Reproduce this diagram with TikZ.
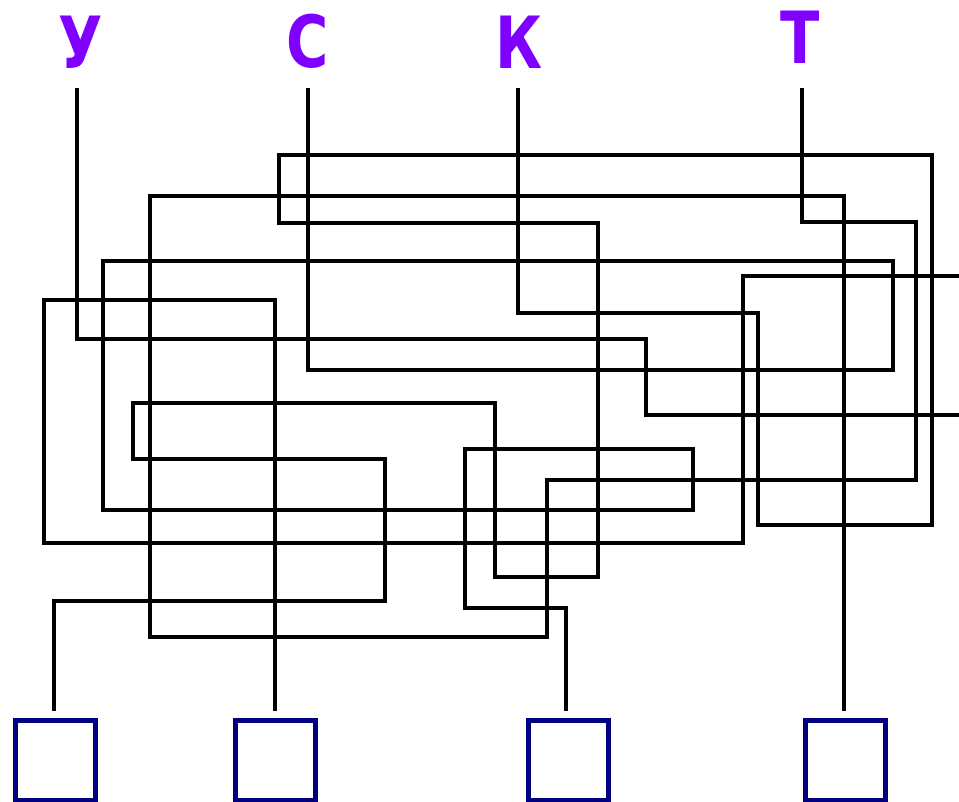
\documentclass[tikz,border=0pt]{standalone}
\usepackage{fontspec}
\newfontfamily\letterfont[FakeStretch=0.8]{DejaVu Sans Bold}
\definecolor{lettercol}{HTML}{8000FF}
\definecolor{boxcol}{HTML}{000080}
\tikzset{
  wire/.style={line width=4.6pt, draw=black, line join=miter},
  goal/.style={draw=boxcol, line width=5pt, rectangle, minimum width=80pt, minimum height=80pt, inner sep=0pt, fill=white},
  letter/.style={text=lettercol, font=\letterfont\fontsize{72}{72}\selectfont, anchor=base, inner sep=0pt}
}
\begin{document}
\begin{tikzpicture}[x=1pt,y=-1pt]
\useasboundingbox[fill=white] (0,0) rectangle (959,801);
% letters
\node[letter] (lU) at (81,68) {У};
\node[letter] (lS) at (308,67) {С};
\node[letter] (lK) at (519,68) {К};
\node[letter] (lT) at (800,63) {Т};
% wire ends
\coordinate (sU) at (77,88);
\coordinate (sS) at (308,88);
\coordinate (sK) at (518,88);
\coordinate (sT) at (802,88);
\coordinate (e1) at (54,711);
\coordinate (e2) at (275,711);
\coordinate (e3) at (566,711);
\coordinate (e4) at (844,711);
\coordinate (outA) at (959,415);
\coordinate (inA) at (959,276);
% boxes
\node[goal] (b1) at (55.5,760.5) {};
\node[goal] (b2) at (275,760.5) {};
\node[goal] (b3) at (568.5,760.5) {};
\node[goal] (b4) at (845.5,760.5) {};
% У
\draw[wire] (sU) -- (77,339) -- (646,339) -- (646,415) -- (outA);
\draw[wire] (inA) -- (743,276) -- (743,543) -- (44,543) -- (44,300) -- (275,300) -- (e2);
% С
\draw[wire] (sS) -- (308,370) -- (893,370) -- (893,261) -- (103,261) -- (103,510) -- (693,510) -- (693,449) -- (465,449) -- (465,608) -- (566,608) -- (e3);
% К
\draw[wire] (sK) -- (518,313) -- (758,313) -- (758,525) -- (932,525) -- (932,155) -- (279,155) -- (279,223) -- (598,223) -- (598,577) -- (495,577) -- (495,403) -- (133,403) -- (133,459) -- (385,459) -- (385,601) -- (54,601) -- (e1);
% Т
\draw[wire] (sT) -- (802,222) -- (916,222) -- (916,480) -- (547,480) -- (547,637) -- (150,637) -- (150,196) -- (844,196) -- (e4);
\end{tikzpicture}
\end{document}
